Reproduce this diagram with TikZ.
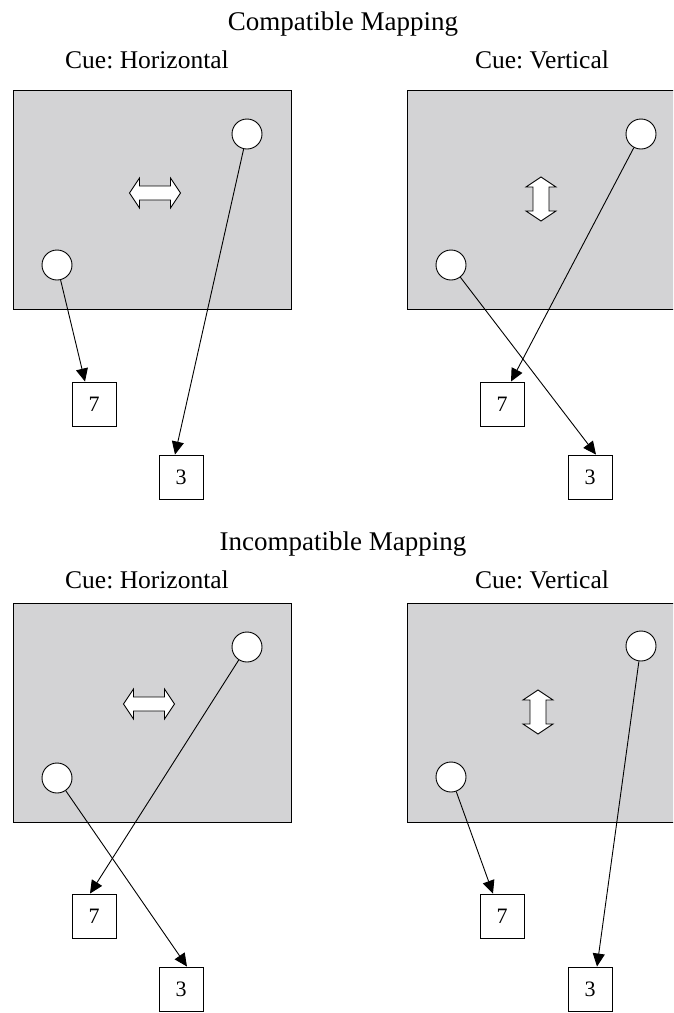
\documentclass[tikz,border=0pt]{standalone}
\usepackage{fontspec}
\setmainfont{Liberation Serif}
\usetikzlibrary{arrows.meta,calc}
\definecolor{panelgray}{RGB}{211,211,213}
\frenchspacing
\begin{document}
\begin{tikzpicture}[x=1pt,y=-1pt,
  panel/.style={draw=black, fill=panelgray, line width=1pt},
  dot/.style={circle, draw, fill=white, minimum size=30pt, inner sep=0pt, line width=0.9pt},
  numbox/.style={rectangle, draw, fill=white, minimum size=44pt, inner sep=0pt, line width=0.9pt, font=\fontsize{22}{26}\selectfont},
  link/.style={line width=0.9pt, -{Triangle[length=13pt,width=12pt]}},
  titletext/.style={font=\fontsize{27}{31}\selectfont, anchor=base, inner sep=0pt},
  cuetext/.style={font=\fontsize{25.5}{29}\selectfont, anchor=base, inner sep=0pt},
  harrow/.pic={\draw[fill=white, line width=0.9pt] (-25.5,0) -- (-15.5,-15) -- (-15.5,-7) -- (15.5,-7) -- (15.5,-15) -- (25.5,0) -- (15.5,15) -- (15.5,7) -- (-15.5,7) -- (-15.5,15) -- cycle;},
  varrow/.pic={\draw[fill=white, line width=0.9pt] (0,-22) -- (15,-12) -- (8,-12) -- (8,12) -- (15,12) -- (0,22) -- (-15,12) -- (-8,12) -- (-8,-12) -- (-15,-12) -- cycle;}
]
\useasboundingbox (0,0) rectangle (673,1013);
\clip (0,0) rectangle (673,1013);

% ---------- Compatible ----------
\node[titletext] (t1) at (343,30) {Compatible Mapping};
\node[cuetext] (h1) at (147,68) {Cue: Horizontal};
\node[cuetext] (v1) at (542,68) {Cue: Vertical};

\draw[panel] (13,90) rectangle (291,309);
\draw[panel] (407,90) rectangle (680,309);

\pic at (155,193) {harrow};
\pic at (541,199) {varrow};

\node[dot] (p1a) at (247,134) {};
\node[dot] (p1b) at (57,265) {};
\node[numbox] (p1s) at (94,404) {7};
\node[numbox] (p1t) at (181,477) {3};
\draw[link] (p1b) -- ($(p1s.north)+(-9,0)$);
\draw[link] (p1a) -- ($(p1t.north)+(-6,0)$);

\node[dot] (p2a) at (641,134) {};
\node[dot] (p2b) at (451,265) {};
\node[numbox] (p2s) at (502,404) {7};
\node[numbox] (p2t) at (590,477) {3};
\draw[link] (p2a) -- ($(p2s.north)+(9,0)$);
\draw[link] (p2b) -- ($(p2t.north)+(6,0)$);

% ---------- Incompatible ----------
\node[titletext] (t2) at (343,550) {Incompatible Mapping};
\node[cuetext] (h2) at (147,588) {Cue: Horizontal};
\node[cuetext] (v2) at (542,588) {Cue: Vertical};

\draw[panel] (13,603) rectangle (291,822);
\draw[panel] (407,603) rectangle (680,822);

\pic at (149,704) {harrow};
\pic at (538,712) {varrow};

\node[dot] (p3a) at (247,647) {};
\node[dot] (p3b) at (57,778) {};
\node[numbox] (p3s) at (94,916) {7};
\node[numbox] (p3t) at (181,989) {3};
\draw[link] (p3a) -- ($(p3s.north)+(-4,0)$);
\draw[link] (p3b) -- ($(p3t.north)+(6,0)$);

\node[dot] (p4a) at (641,646) {};
\node[dot] (p4b) at (451,777) {};
\node[numbox] (p4s) at (502,916) {7};
\node[numbox] (p4t) at (590,989) {3};
\draw[link] (p4b) -- ($(p4s.north)+(-9,0)$);
\draw[link] (p4a) -- ($(p4t.north)+(7,0)$);
\end{tikzpicture}
\end{document}
